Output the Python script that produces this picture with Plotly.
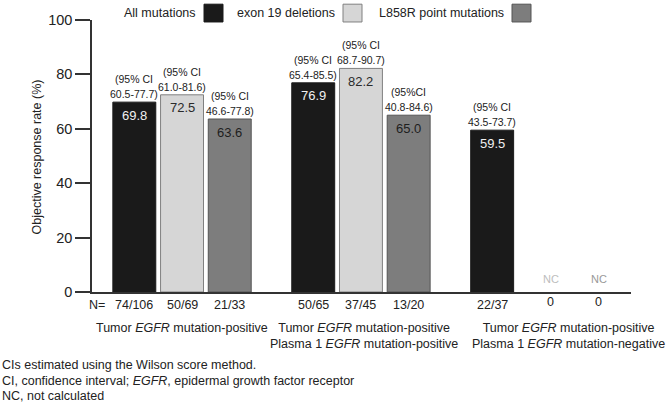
import plotly.graph_objects as go

# ---------------- data ----------------
series_names = ["All mutations", "exon 19 deletions", "L858R point mutations"]
group_labels = [
    "Tumor <i>EGFR</i> mutation-positive",
    "Tumor <i>EGFR</i> mutation-positive<br>Plasma 1 <i>EGFR</i> mutation-positive",
    "Tumor <i>EGFR</i> mutation-positive<br>Plasma 1 <i>EGFR</i> mutation-negative",
]
all_mutations = [69.8, 76.9, 59.5]
exon19 = [72.5, 82.2, None]
l858r = [63.6, 65.0, None]
n_all = ["74/106", "50/65", "22/37"]
n_exon19 = ["50/69", "37/45", "0"]
n_l858r = ["21/33", "13/20", "0"]
ci_all = ["(95% CI<br>60.5-77.7)", "(95% CI<br>65.4-85.5)", "(95% CI<br>43.5-73.7)"]
ci_exon19 = ["(95% CI<br>61.0-81.6)", "(95% CI<br>68.7-90.7)", ""]
ci_l858r = ["(95% CI<br>46.6-77.8)", "(95%CI<br>40.8-84.6)", ""]
y_ticks = [0, 20, 40, 60, 80, 100]
y_title = "Objective response rate (%)"
footnotes = [
    "CIs estimated using the Wilson score method.",
    "CI, confidence interval; <i>EGFR</i>, epidermal growth factor receptor",
    "NC, not calculated",
]

values = [all_mutations, exon19, l858r]
n_labels = [n_all, n_exon19, n_l858r]
ci_labels = [ci_all, ci_exon19, ci_l858r]

# ---------------- style / layout ----------------
W, H = 666, 402
ML, MR, MT, MB = 92, 35, 17, 110
PW, PH = W - ML - MR, H - MT - MB
FONT = "Liberation Sans, Arial, Helvetica, sans-serif"
TXT = "#222222"
fills = ["#1a1a1a", "#d6d6d6", "#7d7d7d"]
edges = ["#1a1a1a", "#808080", "#555555"]
value_colors = ["#f0f0f0", "#2a2a2a", "#1e1e1e"]
nc_colors = ["#bdbdbd", "#999999"]
group_offsets = [0.0, 3.75, 7.5]
bar_width = 0.9
x_range = [-0.887, 10.41]


def px_x(p):
    return (p - ML) / PW


def px_y(p):
    return (MT + PH - p) / PH


fig = go.Figure()
annotations = []
shapes = []

for s, name in enumerate(series_names):
    xs = [group_offsets[g] + s for g in range(len(group_labels))]
    fig.add_trace(go.Bar(
        x=xs, y=values[s], name=name, width=bar_width,
        marker=dict(color=fills[s], line=dict(color=edges[s], width=1)),
        showlegend=False, hoverinfo="skip",
    ))
    for g, v in enumerate(values[s]):
        x = xs[g]
        if v is None:
            annotations.append(dict(x=x, y=0, xref="x", yref="y", text="NC",
                                    showarrow=False, yshift=13, xshift=11,
                                    font=dict(size=11, color=nc_colors[min(s - 1, 1)])))
            annotations.append(dict(x=x, y=0, xref="x", yref="y", text=n_labels[s][g],
                                    showarrow=False, yshift=-10, xshift=11,
                                    font=dict(size=12.5, color=TXT)))
            continue
        annotations.append(dict(x=x, y=v, xref="x", yref="y", text=f"{v:.1f}",
                                showarrow=False, yshift=-13,
                                font=dict(size=13, color=value_colors[s])))
        lines = ci_labels[s][g].split("<br>")
        for k, line in enumerate(lines):
            annotations.append(dict(x=x, y=v, xref="x", yref="y", text=line,
                                    showarrow=False, yanchor="middle",
                                    yshift=8 + 15 * (len(lines) - 1 - k),
                                    font=dict(size=10.5, color=TXT)))
        annotations.append(dict(x=x, y=0, xref="x", yref="y", text=n_labels[s][g],
                                showarrow=False, yshift=-13,
                                font=dict(size=12.5, color=TXT)))

# N= label
annotations.append(dict(x=px_x(97), y=px_y(305), xref="paper", yref="paper", text="N=",
                        xanchor="center", yanchor="middle",
                        showarrow=False, font=dict(size=12.5, color=TXT)))

# group labels
group_xshift = [0, 3, 29]
for g, lab in enumerate(group_labels):
    annotations.append(dict(x=group_offsets[g] + 1, y=0, xref="x", yref="y", text=lab,
                            showarrow=False, yanchor="top", yshift=-27, xshift=group_xshift[g],
                            align="center", font=dict(size=12.5, color=TXT)))

# y title
annotations.append(dict(x=px_x(37), y=px_y(156), xref="paper", yref="paper", text=y_title,
                        xanchor="center", yanchor="middle",
                        textangle=-90, showarrow=False, font=dict(size=12.5, color=TXT)))

# footnotes
for i, t in enumerate(footnotes):
    annotations.append(dict(x=px_x(0), y=px_y(366 + 15.5 * i), xref="paper", yref="paper",
                            text=t, showarrow=False, xanchor="left", yanchor="middle",
                            font=dict(size=12.5, color=TXT)))

# manual legend: text then box on the right
legend_box_left = [204, 343, 512]
for s, name in enumerate(series_names):
    bx = legend_box_left[s]
    shapes.append(dict(type="rect", xref="paper", yref="paper",
                       x0=px_x(bx), x1=px_x(bx + 19), y0=px_y(19), y1=px_y(1),
                       fillcolor=fills[s], line=dict(color=edges[s], width=1)))
    annotations.append(dict(x=px_x(bx - 6), y=px_y(9.5), xref="paper", yref="paper",
                            text=name, showarrow=False, xanchor="right", yanchor="middle",
                            font=dict(size=12.5, color=TXT)))

fig.update_layout(
    width=W, height=H,
    margin=dict(l=ML, r=MR, t=MT, b=MB),
    paper_bgcolor="white", plot_bgcolor="white",
    font=dict(family=FONT, color=TXT),
    barmode="overlay",
    annotations=annotations, shapes=shapes,
    xaxis=dict(range=x_range, showline=True, linecolor="#333333", linewidth=1.5,
               showticklabels=False, ticks="", showgrid=False, zeroline=False, fixedrange=True),
    yaxis=dict(range=[0, 100], tickvals=y_ticks, showline=True, linecolor="#333333",
               linewidth=1.5, ticks="outside", ticklen=15, tickwidth=1.5, tickcolor="#333333",
               tickfont=dict(size=14.5, color=TXT), showgrid=False, zeroline=False,
               fixedrange=True),
)

fig.write_html("out.html", config={"displayModeBar": False},
               post_script="document.body.style.margin='0px';document.body.style.overflow='hidden';")
